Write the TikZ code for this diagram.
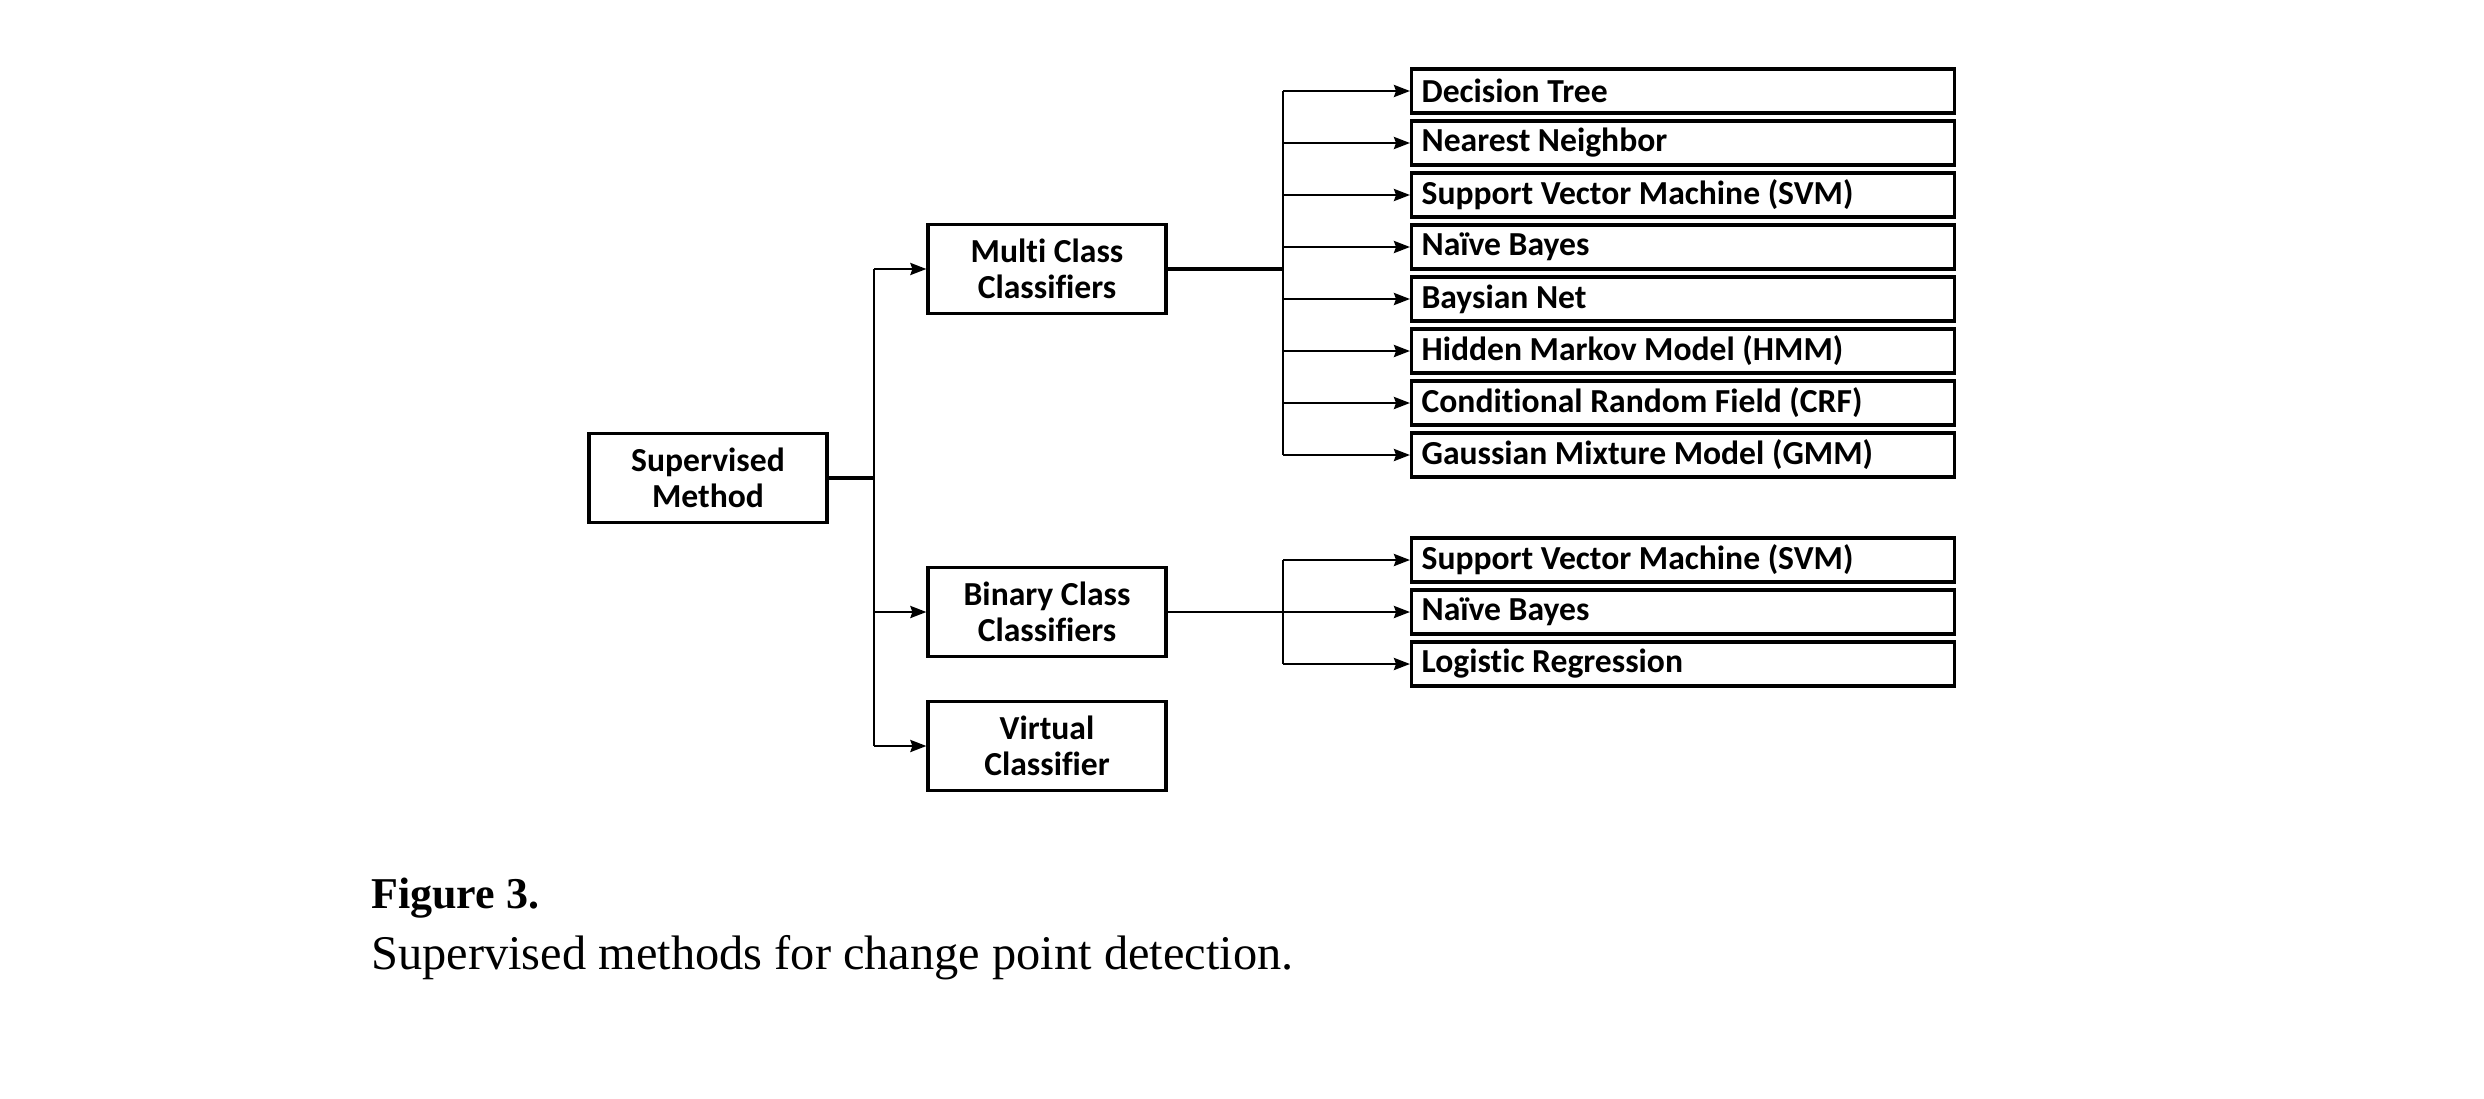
\documentclass[tikz,border=0pt]{standalone}
\usepackage{fontspec}
\setmainfont[Ligatures=CommonOff]{Carlito}
\newfontfamily\capfont{Liberation Serif}
\usetikzlibrary{arrows.meta}

\tikzset{
  mainbox/.style={draw, line width=1.6pt, minimum width=119pt, minimum height=44.5pt,
    inner sep=0pt, align=center, font=\bfseries\fontsize{16.8}{18}\selectfont},
  itembox/.style={draw, line width=1.6pt, anchor=west, minimum height=22pt, inner ysep=0pt,
    inner xsep=5pt, text width=261.5pt, align=flush left, font=\bfseries\fontsize{16.8}{18}\selectfont},
  conn/.style={line width=1.3pt},
  connbold/.style={line width=2pt},
  arr/.style={line width=1.3pt, -{Stealth[length=8pt,width=6pt,inset=1pt]}}
}

\begin{document}
\begin{tikzpicture}[x=0.5pt,y=0.5pt,yscale=-1,xscale=1]
\useasboundingbox (0,0) rectangle (2484,1098);

%Shape: Rectangle [root]
\node[mainbox] (sup) at (708,478) {Supervised\\Method};

%Shape: Rectangle [second level]
\node[mainbox] (multi) at (1047,269) {Multi Class\\Classifiers};
\node[mainbox] (bin) at (1047,612) {Binary Class\\Classifiers};
\node[mainbox] (virt) at (1047,746) {Virtual\\Classifier};

%Shape: Rectangle [multi class list]
\foreach \nm/\txt [count=\i from 0] in {dt/Decision Tree, nn/Nearest Neighbor,
    svm/Support Vector Machine (SVM), nb/Naïve Bayes, bn/Baysian Net,
    hmm/Hidden Markov Model (HMM), crf/Conditional Random Field (CRF),
    gmm/Gaussian Mixture Model (GMM)}
  \node[itembox] (\nm) at (1410,91+52*\i) {\txt};

%Shape: Rectangle [binary class list]
\foreach \nm/\txt [count=\i from 0] in {bsvm/Support Vector Machine (SVM),
    bnb/Naïve Bayes, blr/Logistic Regression}
  \node[itembox] (\nm) at (1410,560+52*\i) {\txt};

%Junctions
\coordinate (js) at (874,478);
\coordinate (jm) at (1283,269);
\coordinate (jb) at (1283,612);

%Lines: root to second level
\draw[connbold] (sup.east) -- (js);
\draw[conn] (js |- multi.west) -- (js |- virt.west);
\foreach \nm in {multi,bin,virt}
  \draw[arr] (js |- \nm.west) -- (\nm.west);

%Lines: multi class
\draw[connbold] (multi.east) -- (jm);
\draw[conn] (jm |- dt.west) -- (jm |- gmm.west);
\foreach \nm in {dt,nn,svm,nb,bn,hmm,crf,gmm}
  \draw[arr] (jm |- \nm.west) -- (\nm.west);

%Lines: binary class
\draw[conn] (bin.east) -- (jb);
\draw[conn] (jb |- bsvm.west) -- (jb |- blr.west);
\foreach \nm in {bsvm,bnb,blr}
  \draw[arr] (jb |- \nm.west) -- (\nm.west);

% Text Node
\node[anchor=west, inner sep=0pt, font=\capfont\bfseries\fontsize{22}{26}\selectfont] (figlbl) at (371,898) {Figure 3.};
% Text Node
\node[anchor=west, inner sep=0pt, font=\capfont\fontsize{24.2}{28}\selectfont] (figcap) at (371,958) {Supervised methods for change point detection.};

\end{tikzpicture}
\end{document}
